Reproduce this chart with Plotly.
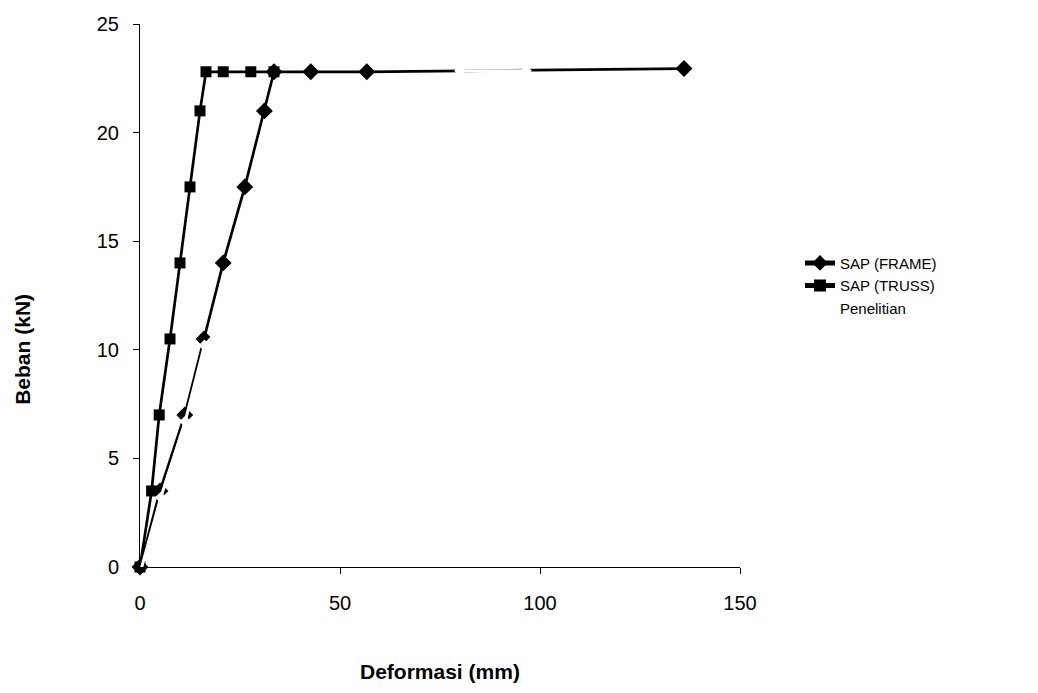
import plotly.graph_objects as go

# Load-deformation data (deformation in mm, load in kN)
frame_x = [0, 5.0, 11.2, 16.0, 20.8, 26.2, 31.1, 33.5, 42.7, 56.7, 136.0]
frame_y = [0, 3.5, 7.0, 10.5, 14.0, 17.5, 21.0, 22.8, 22.8, 22.8, 22.95]

truss_x = [0, 2.9, 4.8, 7.5, 10.0, 12.5, 15.0, 16.5, 20.8, 27.7, 33.5]
truss_y = [0, 3.5, 7.0, 10.5, 14.0, 17.5, 21.0, 22.8, 22.8, 22.8, 22.8]

test_x = [0, 5.2, 11.3, 16.1, 80.0, 96.5]
test_y = [-0.3, 3.2, 6.7, 10.2, 22.85, 22.85]

x_ticks = [0, 50, 100, 150]
y_ticks = [0, 5, 10, 15, 20, 25]

fig = go.Figure()

fig.add_trace(go.Scatter(
    x=frame_x, y=frame_y, name="SAP (FRAME)", mode="lines+markers",
    line=dict(color="black", width=2.7),
    marker=dict(symbol="diamond", size=13, color="black"),
    cliponaxis=False,
))
fig.add_trace(go.Scatter(
    x=truss_x, y=truss_y, name="SAP (TRUSS)", mode="lines+markers",
    line=dict(color="black", width=2.7),
    marker=dict(symbol="square", size=11, color="black"),
    cliponaxis=False,
))
fig.add_trace(go.Scatter(
    x=test_x, y=test_y, name="Penelitian", mode="lines+markers",
    line=dict(color="white", width=3),
    marker=dict(symbol="diamond", size=9, color="white"),
    cliponaxis=False,
))

fig.update_layout(
    width=1038, height=693,
    margin=dict(l=140, r=298, t=24, b=126),
    paper_bgcolor="white", plot_bgcolor="white",
    font=dict(family="Liberation Sans, Arial, sans-serif", color="black"),
    showlegend=True,
    legend=dict(
        x=1.1, y=0.59, xanchor="left", yanchor="top",
        font=dict(size=15, color="black"),
        bgcolor="rgba(0,0,0,0)",
        itemsizing="constant",
        tracegroupgap=0,
    ),
    annotations=[
        dict(
            text="<b>Beban (kN)</b>", textangle=-90,
            xref="paper", yref="paper", x=-0.195, y=0.4,
            xanchor="center", yanchor="middle", showarrow=False,
            font=dict(size=21, color="black"),
        ),
        dict(
            text="<b>Deformasi (mm)</b>",
            xref="paper", yref="paper", x=0.5, y=-0.193,
            xanchor="center", yanchor="middle", showarrow=False,
            font=dict(size=21, color="black"),
        ),
    ],
)

fig.update_xaxes(
    range=[0, 150], tickvals=x_ticks, ticktext=[str(v) for v in x_ticks],
    showline=True, linecolor="black", linewidth=1,
    ticks="outside", ticklen=6, tickcolor="black",
    ticklabelstandoff=12, automargin=False,
    showgrid=False, zeroline=False,
    tickfont=dict(size=20),
)
fig.update_yaxes(
    range=[0, 25], tickvals=y_ticks, ticktext=[str(v) for v in y_ticks],
    showline=True, linecolor="black", linewidth=1,
    ticks="outside", ticklen=6, tickcolor="black",
    ticklabelstandoff=10, automargin=False,
    showgrid=False, zeroline=False,
    tickfont=dict(size=20),
)

fig.write_html("out.html")
